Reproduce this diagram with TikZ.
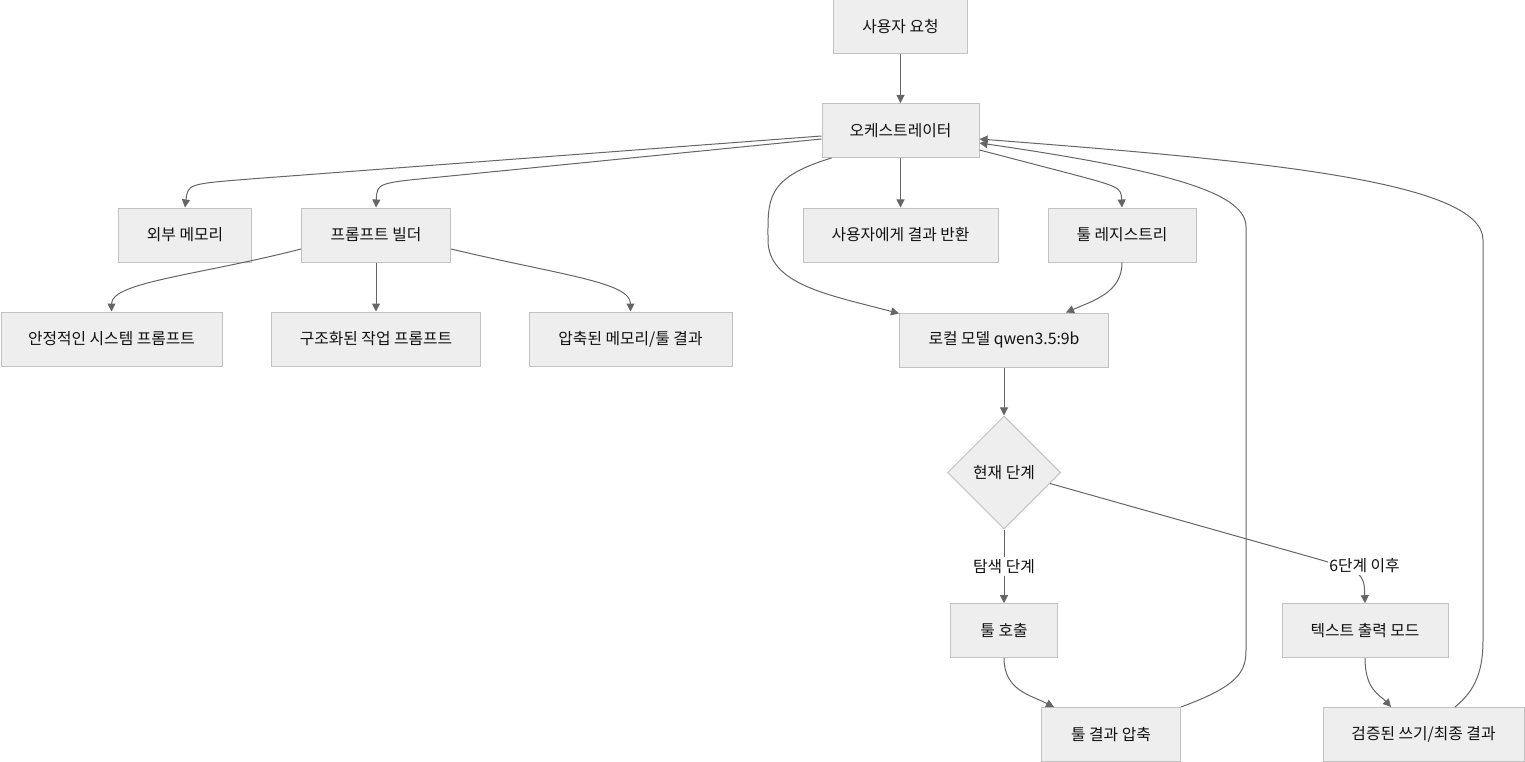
\documentclass[tikz,border=0pt]{standalone}
\usepackage{fontspec}
\setmainfont{Noto Sans CJK KR}
\usetikzlibrary{arrows.meta,shapes.geometric,calc}
\definecolor{boxfill}{HTML}{EEEEEE}
\definecolor{boxline}{HTML}{C2C2C2}
\definecolor{edgecol}{HTML}{666666}
\definecolor{txtcol}{HTML}{111111}
\tikzset{
  box/.style={draw=boxline, fill=boxfill, line width=1pt, minimum height=54pt, inner sep=0pt, font=\fontsize{15.8}{18}\selectfont, text=txtcol},
  decision/.style={diamond, aspect=1, draw=boxline, fill=boxfill, line width=1pt, minimum size=113pt, inner sep=0pt, font=\fontsize{15.8}{18}\selectfont, text=txtcol},
  lbl/.style={fill=white, inner xsep=1pt, inner ysep=2pt, font=\fontsize{15.8}{18}\selectfont, text=txtcol},
  link/.style={draw=edgecol, line width=1pt},
  edge/.style={link, -{Triangle[length=8pt,width=8pt]}}
}
\begin{document}
\begin{tikzpicture}[x=1pt,y=-1pt]
\useasboundingbox (0,0) rectangle (1525,762);
\fill[white] (0,0) rectangle (1525,762);
% nodes
\node[box, minimum width=134pt] (req) at (900.5,27) {사용자 요청};
\node[box, minimum width=157pt] (orch) at (900.5,130.5) {오케스트레이터};
\node[box, minimum width=133pt] (ext) at (185,235) {외부 메모리};
\node[box, minimum width=149pt] (pb) at (376,235) {프롬프트 빌더};
\node[box, minimum width=195pt] (ret) at (900.5,235) {사용자에게 결과 반환};
\node[box, minimum width=148pt] (reg) at (1122,235) {툴 레지스트리};
\node[box, minimum width=221pt] (sys) at (111.5,339) {안정적인 시스템 프롬프트};
\node[box, minimum width=209pt] (task) at (376,339) {구조화된 작업 프롬프트};
\node[box, minimum width=203pt] (cmp) at (630.5,339) {압축된 메모리/툴 결과};
\node[box, minimum width=209pt] (model) at (1004,340) {로컬 모델 qwen3.5:9b};
\node[decision] (phase) at (1004,472.5) {현재 단계};
\node[box, minimum width=107pt] (call) at (1004,630.7) {툴 호출};
\node[box, minimum width=166pt] (txt) at (1365,630.7) {텍스트 출력 모드};
\node[box, minimum width=139pt] (tcmp) at (1111,734.5) {툴 결과 압축};
\node[box, minimum width=201pt] (ver) at (1423.5,734.5) {검증된 쓰기/최종 결과};
% edges
\draw[edge] (req) -- (orch);
\draw[edge] ($(orch.west)+(0,5.5)$) -- (250,179) .. controls (188,184) .. (ext.north);
\draw[edge] ($(orch.west)+(0,8.5)$) -- (440,177) .. controls (377,183) .. (pb.north);
\draw[edge] (orch) -- (ret);
\draw[edge] ($(orch.east)+(0,19.5)$) -- (1060,171) .. controls (1121,187) .. (reg.north);
\draw[edge] ($(orch.south west)+(10,0)$) .. controls (765,178) and (768,200) .. (768,240)
  .. controls (768,285) and (830,295) .. ($(model.north west)+(0,1)$);
\draw[edge] (reg.south) .. controls (1122,292) and (1095,300) .. ($(model.north)+(62,0)$);
\draw[edge] ($(pb.west)+(0,14)$) .. controls (200,275) and (111.5,282) .. (sys.north);
\draw[edge] (pb) -- (task);
\draw[edge] ($(pb.east)+(0,14)$) .. controls (560,275) and (630.5,282) .. (cmp.north);
\draw[edge] (model) -- (phase);
\draw[edge] (phase.south) -- node[lbl] (l1) {탐색 단계} (call.north);
\draw[edge] ($(phase.east)+(-11,11)$) -- (1300,554) .. controls (1364,572) .. (txt.north);
\node[lbl] (l2) at (1364.5,565.7) {6단계 이후};
\draw[edge] (call.south) .. controls (1004,690) and (1030,695) .. ($(tcmp.north)+(-57,0)$);
\draw[edge] (txt.south) .. controls (1365,690) and (1380,695) .. ($(ver.north)+(-32.5,0)$);
\draw[edge] (tcmp.north east) .. controls (1238,686) and (1246,672) .. (1246,650) -- (1246,227)
  .. controls (1246,195) and (1180,172) .. ($(orch.east)+(0,12.5)$);
\draw[edge] ($(ver.north)+(31.5,0)$) .. controls (1476,690) and (1483,670) .. (1483,640) -- (1483,240)
  .. controls (1483,180) and (1250,160) .. ($(orch.east)+(0,8.5)$);
\end{tikzpicture}
\end{document}
